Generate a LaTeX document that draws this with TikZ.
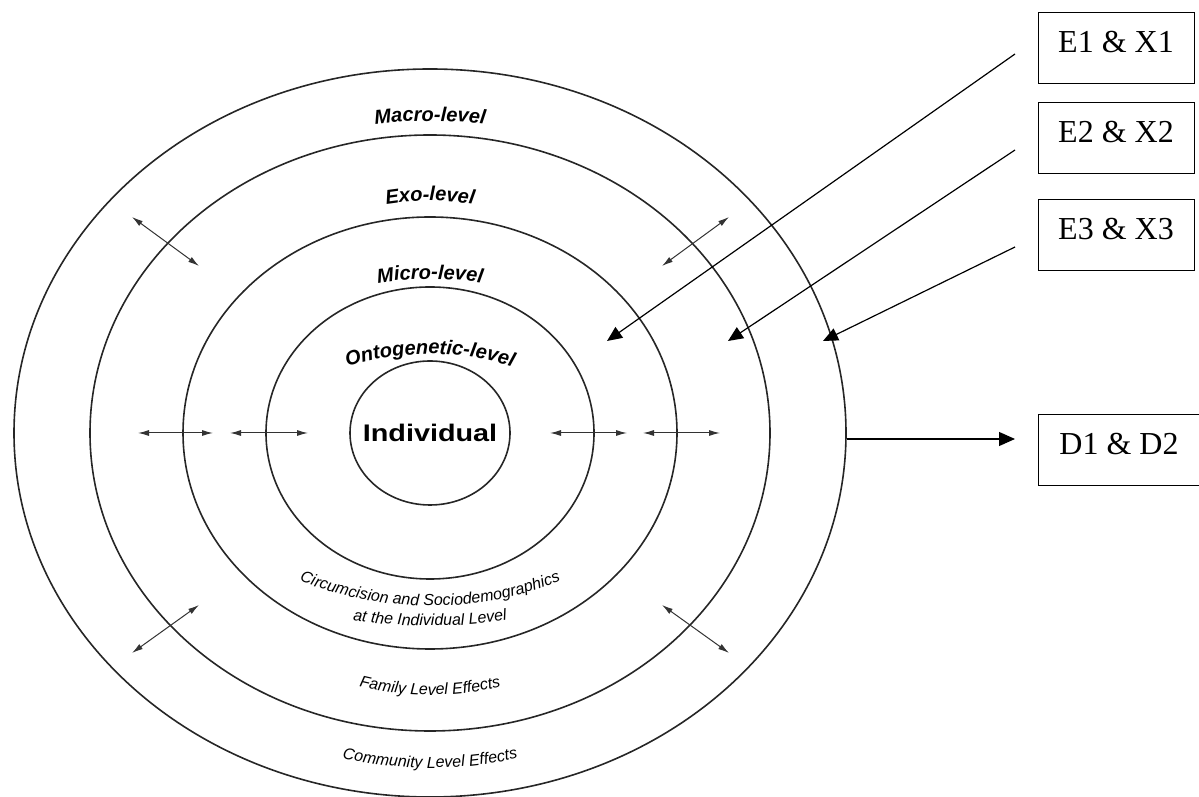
\documentclass[tikz,border=0pt]{standalone}
\usepackage{fontspec}
\setmainfont{Liberation Serif}
\newfontfamily\arialfont{Liberation Sans}
\usetikzlibrary{arrows.meta,calc,decorations.text}
\tikzset{
ring/.style={draw=black!85, line width=1.6pt},
twoway/.style={draw=black!80, line width=1pt, {Latex[length=11pt,width=6pt]}-{Latex[length=11pt,width=6pt]}},
pointer/.style={draw=black, line width=1.2pt, -{Triangle[length=15pt,width=13pt]}},
labelbox/.style={draw=black, line width=1pt, minimum width=156pt, inner xsep=0pt, inner ysep=0pt, text height=40pt, text depth=31pt, font=\fontsize{32}{32}\selectfont},
curved/.style={decorate, decoration={text along path, text align=center, text={#1}}}
}
\newcommand{\lvlfont}{\arialfont\bfseries\itshape\fontsize{20}{20}\selectfont}
\newcommand{\effont}{\arialfont\itshape\fontsize{16}{16}\selectfont}
\begin{document}
\begin{tikzpicture}[x=1pt,y=1pt]
\useasboundingbox (0,0) rectangle (1199,797);
\coordinate (c) at (430,364);
% the five levels
\draw[ring] (c) ellipse [x radius=416, y radius=364];
\draw[ring] (c) ellipse [x radius=340, y radius=298];
\draw[ring] (c) ellipse [x radius=247, y radius=216];
\draw[ring] (c) ellipse [x radius=164, y radius=146];
\draw[ring] (c) ellipse [x radius=80, y radius=72];
\node[font=\arialfont\bfseries\fontsize{24}{24}\selectfont, xscale=1.2] (indiv) at (c) {Individual};
% level names
\path[curved={|\lvlfont|Macro-level}] ($(430,256)+(105:420)$) arc[start angle=105, end angle=75, radius=420];
\path[curved={|\lvlfont|Exo-level}] ($(430,316)+(105:280)$) arc[start angle=105, end angle=75, radius=280];
\path[curved={|\lvlfont|Micro-level}] ($(430,198)+(105:320)$) arc[start angle=105, end angle=75, radius=320];
\path[curved={|\lvlfont|Ontogenetic-level}] ($(430,176)+(115:267)$) arc[start angle=115, end angle=65, radius=267];
% effects
\path[curved={|\effont|Circumcision and Sociodemographics}] ($(430,541)+(245:350)$) arc[start angle=245, end angle=295, radius=350];
\path[curved={|\effont|at the Individual Level}] ($(430,677)+(255:506)$) arc[start angle=255, end angle=285, radius=506];
\path[curved={|\effont|Family Level Effects}] ($(430,402)+(250:300)$) arc[start angle=250, end angle=290, radius=300];
\path[curved={|\effont|Community Level Effects}] ($(430,429)+(250:400)$) arc[start angle=250, end angle=290, radius=400];
% two-way arrows between levels
\foreach \a/\b in {138/213, 230/308, 550/627, 643/720}
  \draw[twoway] (\a,364) -- (\b,364);
\draw[twoway] (132,580) -- (199,531);
\draw[twoway] (662,531) -- (729,580);
\draw[twoway] (132,144) -- (199,192);
\draw[twoway] (662,192) -- (729,144);
% measures
\node[labelbox] (e1) at (1116,748.5) {E1 \& X1};
\node[labelbox] (e2) at (1116,658.5) {E2 \& X2};
\node[labelbox] (e3) at (1116,562) {E3 \& X3};
\node[labelbox, minimum width=162pt] (d1) at (1119,346.5) {D1 \& D2};
\coordinate (s1) at (1015,743);
\coordinate (s2) at (1015,647);
\coordinate (s3) at (1015,550);
\coordinate (t1) at (607,456);
\coordinate (t2) at (728,456);
\coordinate (t3) at (823,456);
\coordinate (s4) at (847,358);
\coordinate (t4) at (1015,358);
\draw[pointer] (s1) -- (t1);
\draw[pointer] (s2) -- (t2);
\draw[pointer] (s3) -- (t3);
\draw[pointer, -{Triangle[length=16pt,width=14pt]}] (s4) -- (t4);
\end{tikzpicture}
\end{document}
